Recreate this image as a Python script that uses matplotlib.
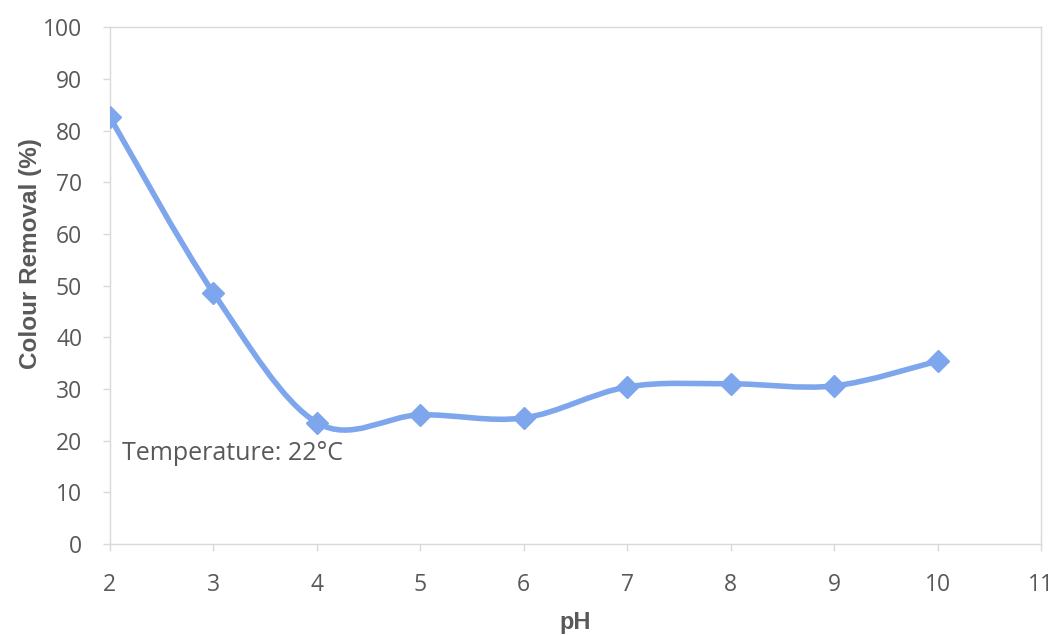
import numpy as np
import matplotlib
matplotlib.use("Agg")
import matplotlib.pyplot as plt
from matplotlib.path import Path
from matplotlib.patches import PathPatch

ph = [2, 3, 4, 5, 6, 7, 8, 9, 10]
removal = [82.6, 48.6, 23.5, 25.0, 24.4, 30.4, 31.0, 30.6, 35.4]
xticks = [2, 3, 4, 5, 6, 7, 8, 9, 10, 11]
yticks = [0, 10, 20, 30, 40, 50, 60, 70, 80, 90, 100]

line_color = "#7ea6ec"
text_color = "#595959"
grid_color = "#d9d9d9"

plt.rcParams['font.family'] = ['Open Sans', 'DejaVu Sans']

fig = plt.figure(figsize=(10.57, 6.35), dpi=100)
ax = fig.add_axes([0.104, 0.1433, 0.881, 0.8137])

# Excel-style smoothed line (cubic Bezier through points)
pts = np.column_stack([ph, removal]).astype(float)
verts = [tuple(pts[0])]
codes = [Path.MOVETO]
n = len(pts)
for i in range(n - 1):
    p0 = pts[i - 1] if i > 0 else pts[i]
    p1 = pts[i]
    p2 = pts[i + 1]
    p3 = pts[i + 2] if i + 2 < n else pts[i + 1]
    c1 = p1 + (p2 - p0) / 6.0
    c2 = p2 - (p3 - p1) / 6.0
    verts += [tuple(c1), tuple(c2), tuple(p2)]
    codes += [Path.CURVE4] * 3
path = Path(verts, codes)
ax.add_patch(PathPatch(path, facecolor='none', edgecolor=line_color, lw=4,
                       capstyle='round', joinstyle='round', zorder=3))
ax.plot(ph, removal, linestyle='none', marker='D', markersize=11,
        color=line_color, zorder=4)

ax.set_xlim(2, 11)
ax.set_ylim(0, 100)
ax.set_xticks(xticks)
ax.set_yticks(yticks)
ax.tick_params(axis='both', colors=grid_color, labelcolor=text_color,
               labelsize=16.5, length=5, width=1, direction='out')
ax.tick_params(axis='x', pad=16)
ax.tick_params(axis='y', pad=15)
for s in ax.spines.values():
    s.set_color(grid_color)
    s.set_linewidth(1)

ax.set_xlabel('pH', fontsize=17, fontweight='bold', color=text_color,
              family=['Liberation Sans', 'DejaVu Sans'], va='center')
ax.xaxis.set_label_coords(0.5, -0.151)
ax.set_ylabel('Colour Removal (%)', fontsize=17.5, fontweight='bold', color=text_color,
              family=['Liberation Sans', 'DejaVu Sans'], va='center')
ax.yaxis.set_label_coords(-0.0849, 0.562)

ax.text(2.12, 17.6, 'Temperature: 22°C', fontsize=18, color=text_color,
        ha='left', va='center')

fig.savefig('out.png', dpi=100, facecolor='white')
